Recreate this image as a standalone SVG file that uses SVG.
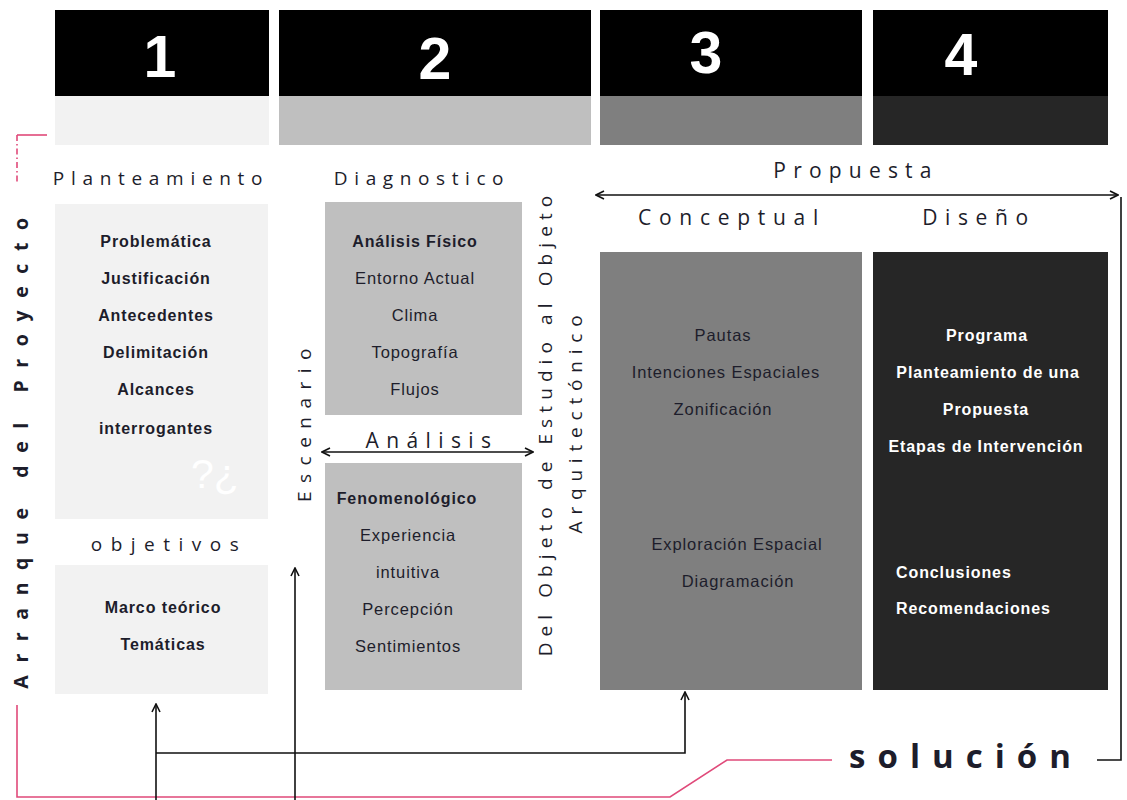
<svg xmlns="http://www.w3.org/2000/svg" width="1127" height="800" viewBox="0 0 1127 800">
<defs>
<style>
.hd{font-family:"Liberation Sans",Arial,sans-serif;font-weight:bold;font-size:59px;fill:#fff;text-anchor:middle}
.lbl{font-family:"Open Sans","Liberation Sans",sans-serif;font-size:19px;fill:#1d1d2b;letter-spacing:6.7px;text-anchor:middle}
.lb2{font-family:"Open Sans","Liberation Sans",sans-serif;font-size:21px;fill:#1d1d2b;letter-spacing:7.4px;text-anchor:middle}
.vt{font-family:"Open Sans","Liberation Sans",sans-serif;font-size:19px;fill:#1d1d2b;text-anchor:middle}
.b{font-family:"Liberation Sans",Arial,sans-serif;font-weight:bold;font-size:16px;letter-spacing:0.9px;fill:#1d1d2b;text-anchor:middle}
.r{font-family:"Liberation Sans",Arial,sans-serif;font-size:16.5px;letter-spacing:0.9px;fill:#1d1d2b;text-anchor:middle}
.w{font-family:"Liberation Sans",Arial,sans-serif;font-weight:bold;font-size:16px;letter-spacing:0.9px;fill:#fff;text-anchor:middle}
.con{fill:none;stroke:#111;stroke-width:1.6}
.pink{fill:none;stroke:#e04a7a;stroke-width:1.6}
</style>
<marker id="ah" viewBox="0 0 10 10" refX="9" refY="5" markerWidth="10" markerHeight="10" markerUnits="userSpaceOnUse" orient="auto-start-reverse">
<polyline points="1,1 9,5 1,9" fill="none" stroke="#111" stroke-width="1.6"/>
</marker>
</defs>
<rect width="1127" height="800" fill="#fff"/>

<g id="header1"><rect x="55" y="10" width="214" height="86" fill="#000"/><rect x="55" y="96" width="214" height="49" fill="#f2f2f2"/><text class="hd" x="160" y="77">1</text></g>
<g id="header2"><rect x="279" y="10" width="312" height="86" fill="#000"/><rect x="279" y="96" width="312" height="49" fill="#bfbfbf"/><text class="hd" x="435" y="79">2</text></g>
<g id="header3"><rect x="600" y="10" width="262" height="86" fill="#000"/><rect x="600" y="96" width="262" height="49" fill="#7f7f7f"/><text class="hd" x="706" y="73">3</text></g>
<g id="header4"><rect x="873" y="10" width="235" height="86" fill="#000"/><rect x="873" y="96" width="235" height="49" fill="#262626"/><text class="hd" x="961" y="75">4</text></g>

<g id="arranque">
<text class="vt" style="font-weight:bold;letter-spacing:12.6px;font-size:19.5px" transform="translate(28,447) rotate(-90)">Arranque del Proyecto</text>
</g>

<g id="planteamiento">
<text class="lbl" x="161" y="185">Planteamiento</text>
<rect x="55" y="204" width="213" height="315" fill="#f2f2f2"/>
<text class="b" x="156" y="247">Problemática</text>
<text class="b" x="156" y="284">Justificación</text>
<text class="b" x="156" y="321">Antecedentes</text>
<text class="b" x="156" y="358">Delimitación</text>
<text class="b" x="156" y="395">Alcances</text>
<text class="b" x="156" y="434">interrogantes</text>
<text x="215" y="488" style="font-family:'Liberation Sans',sans-serif;font-size:41px;fill:#fff;text-anchor:middle">?¿</text>
</g>

<g id="objetivos">
<text class="lbl" style="letter-spacing:8.5px" x="169" y="551">objetivos</text>
<rect x="55" y="565" width="213" height="129" fill="#f2f2f2"/>
<text class="b" x="163" y="613">Marco teórico</text>
<text class="b" x="163" y="650">Temáticas</text>
</g>

<g id="escenario">
<text class="vt" style="letter-spacing:8.5px" transform="translate(311,421) rotate(-90)">Escenario</text>
</g>

<g id="diagnostico">
<text class="lbl" style="letter-spacing:6.6px" x="422" y="185">Diagnostico</text>
<rect x="325" y="202" width="197" height="213" fill="#bfbfbf"/>
<text class="b" x="415" y="247">Análisis Físico</text>
<text class="r" x="415" y="284">Entorno Actual</text>
<text class="r" x="415" y="321">Clima</text>
<text class="r" x="415" y="358">Topografía</text>
<text class="r" x="415" y="395">Flujos</text>
</g>

<g id="analisis">
<text class="lb2" x="432" y="448">Análisis</text>
</g>

<g id="fenomenologico">
<rect x="325" y="463" width="197" height="227" fill="#bfbfbf"/>
<text class="b" x="407" y="504">Fenomenológico</text>
<text class="r" x="408" y="541">Experiencia</text>
<text class="r" x="408" y="578">intuitiva</text>
<text class="r" x="408" y="615">Percepción</text>
<text class="r" x="408" y="652">Sentimientos</text>
</g>

<g id="objeto">
<text class="vt" style="letter-spacing:6.1px" transform="translate(552,423) rotate(-90)">Del Objeto de Estudio al Objeto</text>
<text class="vt" style="letter-spacing:6.8px" transform="translate(582,421) rotate(-90)">Arquitectónico</text>
</g>

<g id="propuesta">
<text class="lb2" style="letter-spacing:7.2px" x="856" y="178">Propuesta</text>
</g>

<g id="conceptual">
<text class="lb2" style="letter-spacing:7.7px" x="732" y="225">Conceptual</text>
<rect x="600" y="252" width="262" height="438" fill="#7f7f7f"/>
<text class="r" x="723" y="341">Pautas</text>
<text class="r" x="726" y="378">Intenciones Espaciales</text>
<text class="r" x="723" y="415">Zonificación</text>
<text class="r" x="737" y="550">Exploración Espacial</text>
<text class="r" x="738" y="587">Diagramación</text>
</g>

<g id="diseno">
<text class="lb2" style="letter-spacing:7.6px" x="979" y="225">Diseño</text>
<rect x="873" y="252" width="235" height="438" fill="#262626"/>
<text class="w" x="987" y="341">Programa</text>
<text class="w" x="988" y="378">Planteamiento de una</text>
<text class="w" x="986" y="415">Propuesta</text>
<text class="w" x="986" y="452">Etapas  de Intervención</text>
<text class="w" style="text-anchor:start" x="896" y="578">Conclusiones</text>
<text class="w" style="text-anchor:start" x="896" y="614">Recomendaciones</text>
</g>

<g id="solucion">
<text x="966" y="768" style="font-family:'Open Sans','Liberation Sans',sans-serif;font-size:33px;font-weight:bold;fill:#1d1d2b;letter-spacing:12px;text-anchor:middle">solución</text>
</g>

<g id="connectors">
<polyline class="pink" points="47,135 17,135"/>
<line class="pink" x1="17" y1="135" x2="17" y2="182" stroke-dasharray="6,3,1.5,3"/>
<polyline class="pink" points="17,705 17,797 670,797 727,760 832,760"/>
<line class="con" x1="322" y1="452" x2="533" y2="452" marker-start="url(#ah)" marker-end="url(#ah)"/>
<line class="con" x1="596" y1="195" x2="1118" y2="195" marker-start="url(#ah)" marker-end="url(#ah)"/>
<polyline class="con" points="1097,760 1121,760 1121,197"/>
<line class="con" x1="156" y1="800" x2="156" y2="704" marker-end="url(#ah)"/>
<line class="con" x1="295" y1="800" x2="295" y2="568" marker-end="url(#ah)"/>
<polyline class="con" points="156,753 685,753 685,692" marker-end="url(#ah)"/>
</g>
</svg>
